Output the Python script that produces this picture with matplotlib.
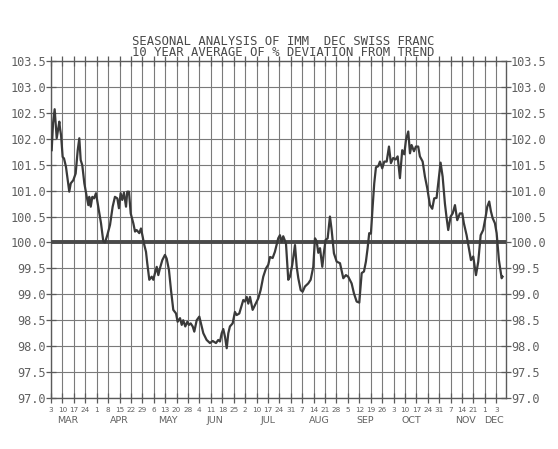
import numpy as np
import matplotlib
matplotlib.use('Agg')
import matplotlib.pyplot as plt

# Datos (semanas desde el 3 de marzo, % respecto a la tendencia)
semanas = [0.06, 0.18, 0.32, 0.50, 0.73, 0.79, 0.88, 1.02, 1.14, 1.31, 1.60, 1.73, 1.95, 2.16,
           2.34, 2.48, 2.60, 2.74, 2.92, 3.13, 3.27, 3.35, 3.48, 3.62, 3.77, 3.94, 4.14, 4.38,
           4.58, 4.73, 4.93, 5.17, 5.40, 5.60, 5.81, 5.95, 6.10, 6.24, 6.39, 6.57, 6.68, 6.83,
           6.98, 7.21, 7.36, 7.50, 7.73, 7.88, 8.03, 8.14, 8.32, 8.43, 8.61, 8.82, 8.96, 9.11,
           9.26, 9.40, 9.54, 9.75, 9.98, 10.13, 10.33, 10.51, 10.71, 10.95, 11.09, 11.30, 11.45,
           11.58, 11.76, 11.94, 12.08, 12.23, 12.41, 12.55, 12.76, 12.99, 13.34, 13.63, 13.92,
           14.16, 14.45, 14.65, 14.80, 14.95, 15.09, 15.24, 15.39, 15.53, 15.67, 15.91, 16.11,
           16.26, 16.49, 16.70, 16.84, 16.99, 17.14, 17.28, 17.43, 17.66, 17.86, 18.15, 18.36,
           18.59, 18.83, 19.03, 19.18, 19.41, 19.61, 19.76, 19.90, 20.05, 20.20, 20.34, 20.58,
           20.78, 20.93, 21.13, 21.37, 21.52, 21.66, 21.87, 22.04, 22.24, 22.53, 22.74, 22.97,
           23.12, 23.27, 23.41, 23.56, 23.76, 23.91, 24.05, 24.23, 24.43, 24.58, 24.78, 25.02,
           25.31, 25.60, 25.83, 26.03, 26.33, 26.53, 26.77, 27.00, 27.21, 27.41, 27.58, 27.73,
           27.87, 28.02, 28.17, 28.31, 28.46, 28.66, 28.81, 29.01, 29.19, 29.40, 29.60, 29.77,
           29.97, 30.18, 30.36, 30.56, 30.76, 30.94, 31.09, 31.29, 31.44, 31.58, 31.79, 31.96,
           32.16, 32.31, 32.55, 32.75, 32.95, 33.19, 33.39, 33.56, 33.77, 33.98, 34.12, 34.30,
           34.50, 34.65, 34.79, 35.00, 35.18, 35.38, 35.58, 35.81, 36.02, 36.16, 36.40, 36.60,
           36.78, 36.98, 37.22, 37.42, 37.63, 37.85, 38.07, 38.21, 38.38, 38.53, 38.68, 38.88,
           39.03, 39.23, 39.47, 39.55]
valores = [101.78, 102.30, 102.57, 102.01, 102.33, 102.20, 102.07, 101.65, 101.62, 101.46,
           100.98, 101.14, 101.20, 101.33, 101.78, 102.01, 101.59, 101.49, 101.14, 100.88,
           100.72, 100.88, 100.69, 100.88, 100.85, 100.95, 100.69, 100.37, 100.02, 100.00,
           100.14, 100.34, 100.69, 100.88, 100.85, 100.66, 100.95, 100.82, 100.96, 100.69,
           100.98, 100.98, 100.56, 100.37, 100.21, 100.24, 100.18, 100.27, 100.11, 99.98,
           99.82, 99.60, 99.28, 99.34, 99.28, 99.41, 99.53, 99.37, 99.50, 99.66, 99.76, 99.69,
           99.47, 99.08, 98.70, 98.63, 98.47, 98.54, 98.41, 98.50, 98.38, 98.47, 98.41, 98.44,
           98.38, 98.28, 98.50, 98.57, 98.25, 98.12, 98.06, 98.10, 98.06, 98.12, 98.09, 98.25,
           98.33, 98.18, 97.96, 98.25, 98.38, 98.44, 98.66, 98.60, 98.63, 98.79, 98.89, 98.86,
           98.95, 98.82, 98.95, 98.70, 98.79, 98.92, 99.08, 99.34, 99.50, 99.57, 99.72, 99.70,
           99.82, 99.95, 100.08, 100.14, 100.01, 100.12, 99.98, 99.28, 99.34, 99.57, 99.95,
           99.53, 99.31, 99.08, 99.05, 99.15, 99.21, 99.28, 99.53, 100.08, 100.02, 99.80,
           99.89, 99.53, 99.82, 100.05, 100.08, 100.50, 100.24, 99.79, 99.63, 99.60, 99.31,
           99.37, 99.34, 99.21, 99.02, 98.86, 98.84, 99.41, 99.44, 99.63, 99.89, 100.18, 100.17,
           100.69, 101.14, 101.45, 101.47, 101.56, 101.43, 101.56, 101.56, 101.85, 101.53,
           101.63, 101.60, 101.66, 101.24, 101.78, 101.70, 101.98, 102.14, 101.72, 101.88,
           101.76, 101.85, 101.85, 101.66, 101.56, 101.27, 101.05, 100.72, 100.65, 100.85,
           100.86, 101.27, 101.54, 101.27, 100.75, 100.47, 100.24, 100.50, 100.56, 100.72,
           100.43, 100.56, 100.56, 100.37, 100.14, 99.89, 99.66, 99.73, 99.37, 99.63, 100.14,
           100.24, 100.50, 100.69, 100.79, 100.60, 100.47, 100.37, 100.18, 99.66, 99.31, 99.34]

# Etiquetas del eje x
dias = ['3', '10', '17', '24', '1', '8', '15', '22', '29', '6', '13', '20', '28',
        '4', '11', '18', '25', '2', '10', '17', '24', '31', '7', '14', '21', '28',
        '5', '12', '19', '26', '3', '10', '17', '24', '31', '7', '14', '21', '1', '3']
meses = ['MAR', 'APR', 'MAY', 'JUN', 'JUL', 'AUG', 'SEP', 'OCT', 'NOV', 'DEC']
pos_meses = [1.5, 6.0, 10.2, 14.4, 19.0, 23.5, 27.5, 31.6, 36.3, 38.8]

titulo = ('SEASONAL ANALYSIS OF IMM  DEC SWISS FRANC\n'
          '10 YEAR AVERAGE OF % DEVIATION FROM TREND')

gris = '#606060'
fuente = 'DejaVu Sans Mono'

fig = plt.figure(figsize=(5.58, 4.49), dpi=100)
fig.patch.set_facecolor('white')
ax = fig.add_axes([51/558, 1 - 398/449, (506 - 51)/558, (398 - 61)/449])

# Reticula
ax.set_xlim(0, 39.85)
ax.set_ylim(97.0, 103.5)
ax.set_xticks(range(len(dias)))
ax.set_xticklabels(dias, fontsize=5.2, color=gris, family='DejaVu Sans')
yt = np.arange(97.0, 103.51, 0.5)
ax.set_yticks(yt)
ax.set_yticklabels([f'{v:.1f}' for v in yt], fontsize=8.6, color=gris, family=fuente)
ax.grid(True, color='#7a7a7a', lw=0.8)
ax.set_axisbelow(True)

ax.tick_params(axis='y', which='both', direction='inout', length=7, width=0.9, color='#5a5a5a',
               left=True, right=True, labelleft=True, labelright=True, pad=0)
ax.tick_params(axis='x', direction='inout', length=7, width=0.9, color='#5a5a5a',
               top=True, pad=3)
for s in ax.spines.values():
    s.set_color('#5a5a5a')
    s.set_linewidth(1.0)

# Linea de 100 y serie
ax.axhline(100.0, color='#4a4a4a', lw=2.8, zorder=3)
ax.plot(semanas, valores, color='#3a3a3a', lw=1.6, zorder=4)

# Meses
for m, p in zip(meses, pos_meses):
    ax.text(p, -0.066, m, transform=ax.get_xaxis_transform(), ha='center', va='center',
            fontsize=6.8, color=gris, family='DejaVu Sans')

# Titulo (dos lineas en un solo texto)
fig.text(283/558, 1 - 47/449, titulo, ha='center', va='center', fontsize=8.8,
         color='#4a4a4a', family=fuente, linespacing=0.82)

fig.savefig('out.png', dpi=100, facecolor='white')
